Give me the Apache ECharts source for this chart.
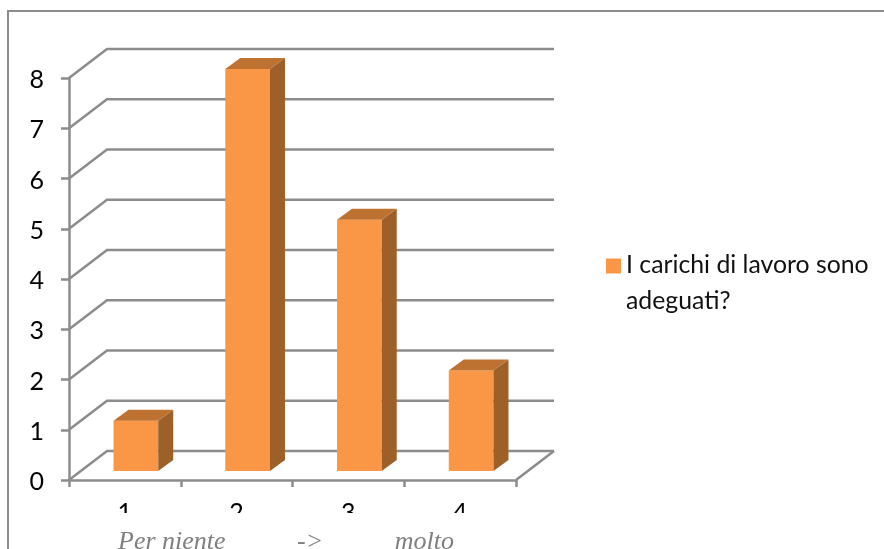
<!DOCTYPE html>
<html>
<head>
<meta charset="utf-8">
<style>html,body{margin:0;padding:0;background:#fff}#c{width:884px;height:549px}</style>
<script src="https://cdn.jsdelivr.net/npm/echarts@6/dist/echarts.min.js"></script>
</head>
<body>
<div id="c"></div>
<script>
const categories = ['1', '2', '3', '4'];
const values = [1, 8, 5, 2];
const gridValues = [0, 1, 2, 3, 4, 5, 6, 7, 8];
const seriesName = 'I carichi di lavoro sono\nadeguati?';
const axisCaption = 'Per niente           ->           molto';

const GRAY = '#8c8c8c', FRONT = '#f99746', SIDE = '#9e6029', TOP = '#bd7232';
const WALL_DX = 38, WALL_DY = -29;
const BAR_OX = 11, BAR_OY = -9, BAR_DX = 15, BAR_DY = -11;
const LW = 2.5;

const chart = echarts.init(document.getElementById('c'), null, {renderer: 'canvas'});

function renderWall(params, api) {
  const cs = params.coordSys;
  const v = api.value(0);
  const y = api.coord([0, v])[1];
  const x0 = cs.x, x1 = cs.x + cs.width;
  const style = {stroke: GRAY, lineWidth: LW, fill: null};
  const children = [{
    type: 'polyline',
    shape: {points: [[x0, y], [x0 + WALL_DX, y + WALL_DY], [x1 + WALL_DX, y + WALL_DY]]},
    style
  }];
  if (v === 0) {
    children.push({
      type: 'line',
      shape: {x1: x1, y1: y, x2: x1 + WALL_DX, y2: y + WALL_DY},
      style
    });
  }
  return {type: 'group', children};
}

function renderBar(params, api) {
  const c = api.coord([api.value(0), api.value(1)]);
  const base = api.coord([api.value(0), 0]);
  const w = api.size([1, 0])[0] * 0.4;
  const l = c[0] + BAR_OX - w / 2, r = l + w;
  const t = c[1] + BAR_OY, b = base[1] + BAR_OY;
  return {
    type: 'group',
    children: [
      {type: 'rect', shape: {x: l, y: t, width: w, height: b - t}, style: {fill: FRONT}},
      {type: 'polygon', shape: {points: [[r, t], [r + BAR_DX, t + BAR_DY], [r + BAR_DX, b + BAR_DY], [r, b]]}, style: {fill: SIDE}},
      {type: 'polygon', shape: {points: [[l, t], [l + BAR_DX, t + BAR_DY], [r + BAR_DX, t + BAR_DY], [r, t]]}, style: {fill: TOP}}
    ]
  };
}

chart.setOption({
  animation: false,
  backgroundColor: '#fff',
  textStyle: {fontFamily: 'Lato'},
  grid: {left: 69, top: 78, width: 447, height: 402},
  xAxis: {
    type: 'category',
    data: categories,
    axisLine: {lineStyle: {color: GRAY, width: LW}},
    axisTick: {show: true, length: 7, alignWithLabel: false, lineStyle: {color: GRAY, width: LW}},
    axisLabel: {color: '#000', fontSize: 25, fontFamily: 'Lato', margin: 20},
    splitLine: {show: false}
  },
  yAxis: {
    type: 'value',
    min: 0,
    max: 8,
    interval: 1,
    axisLine: {show: true, lineStyle: {color: GRAY, width: LW}},
    axisTick: {show: true, length: 8, lineStyle: {color: GRAY, width: LW}},
    axisLabel: {color: '#000', fontSize: 25, fontFamily: 'Lato', margin: 25, verticalAlign: 'top', lineHeight: 4},
    splitLine: {show: false}
  },
  legend: {
    left: 606,
    top: 247,
    padding: 0,
    orient: 'vertical',
    data: [seriesName],
    itemWidth: 15,
    itemHeight: 49,
    itemGap: 0,
    icon: 'path://M0 0H15V15H0Z M0 49h.01v.01z',
    textStyle: {color: '#111', fontSize: 24.8, fontFamily: 'Lato', lineHeight: 36}
  },
  graphic: [
    {type: 'rect', z: 100, silent: true, shape: {x: 30, y: 513, width: 520, height: 36}, style: {fill: '#fff'}},
    {type: 'rect', z: 101, silent: true, shape: {x: 8, y: 11, width: 890, height: 560}, style: {fill: null, stroke: GRAY, lineWidth: 2}},
    {type: 'text', z: 102, silent: true, left: 118, top: 529, style: {text: axisCaption, fill: '#7f7f7f', font: 'italic 26px "Liberation Serif"'}}
  ],
  series: [
    {type: 'custom', name: 'wall', z: 1, coordinateSystem: 'cartesian2d', silent: true,
     data: gridValues.map(v => [v]), encode: {y: 0}, renderItem: renderWall, clip: false},
    {type: 'custom', name: seriesName, z: 2, coordinateSystem: 'cartesian2d',
     itemStyle: {color: FRONT},
     data: values.map((v, i) => [i, v]), encode: {x: 0, y: 1}, renderItem: renderBar, clip: false}
  ]
});
</script>
</body>
</html>
